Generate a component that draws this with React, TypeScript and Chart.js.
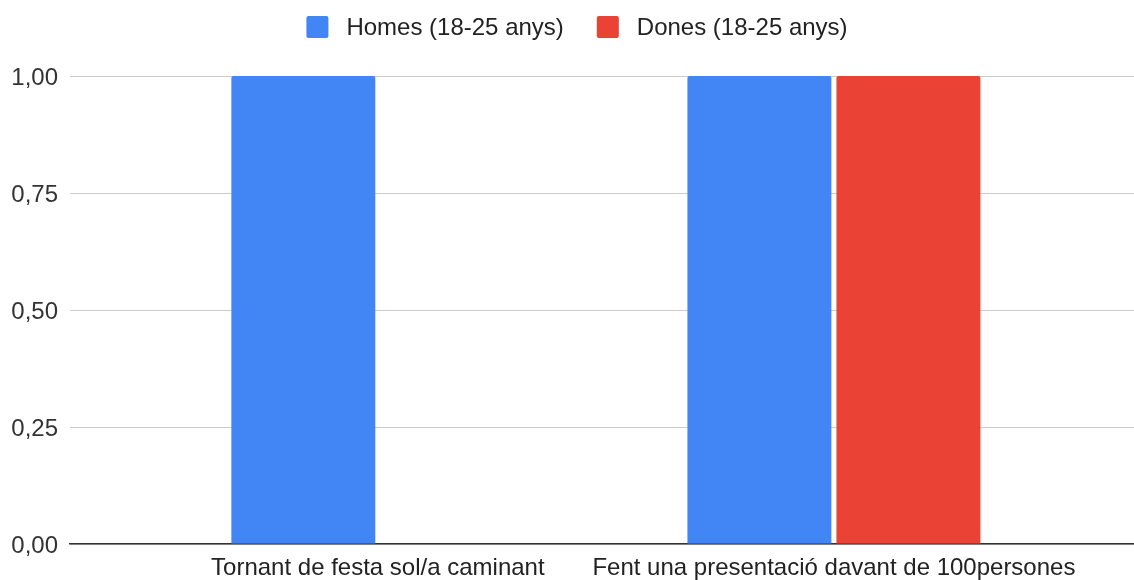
import React, { useEffect, useRef } from 'react';
import { Chart, registerables } from 'chart.js';

Chart.register(...registerables);

// Categories along the x axis
const categories = ['Tornant de festa sol/a caminant', 'Fent una presentació davant de 100persones'];
// Series values
const homes = [1, 1];
const dones = [0, 1];
const seriesNames = ['Homes (18-25 anys)', 'Dones (18-25 anys)'];
const seriesColors = ['#4285F4', '#EA4335'];
// Y axis tick values
const yTicks = [0, 0.25, 0.5, 0.75, 1];

const FONT = "'Liberation Sans', Arial, sans-serif";

// Legend drawn across the top, centred above the plot
const topLegend = {
  id: 'topLegend',
  afterDraw(chart: any) {
    const ctx = chart.ctx as CanvasRenderingContext2D;
    const ds = chart.data.datasets;
    ctx.save();
    ctx.font = `24px ${FONT}`;
    const box = 22;
    const gapText = 18;
    const gapItem = 33;
    const widths = ds.map((d: any) => ctx.measureText(d.label).width);
    const total =
      widths.reduce((s: number, w: number) => s + box + gapText + w, 0) + gapItem * (ds.length - 1);
    let x = chart.width / 2 + 10 - total / 2;
    const cy = 27;
    ds.forEach((d: any, i: number) => {
      ctx.fillStyle = d.backgroundColor;
      ctx.beginPath();
      ctx.roundRect(x, cy - box / 2, box, box, 2);
      ctx.fill();
      ctx.fillStyle = '#222';
      ctx.textBaseline = 'middle';
      ctx.textAlign = 'left';
      ctx.fillText(d.label, x + box + gapText, cy + 1);
      x += box + gapText + widths[i] + gapItem;
    });
    ctx.restore();
  },
};

export default function App() {
  const ref = useRef<HTMLCanvasElement>(null);

  useEffect(() => {
    document.body.style.margin = '0';
    const canvas = ref.current;
    if (!canvas) return;
    const series = [homes, dones];
    const chart = new Chart(canvas, {
      type: 'bar',
      data: {
        datasets: series.map((vals, s) => ({
          label: seriesNames[s],
          data: vals.map((v, i) => ({ x: i, y: v })),
          backgroundColor: seriesColors[s],
          borderRadius: { topLeft: 2, topRight: 2, bottomLeft: 0, bottomRight: 0 },
          borderSkipped: 'bottom',
          categoryPercentage: 0.6535,
          barPercentage: 0.966,
        })),
      },
      options: {
        responsive: false,
        animation: false,
        layout: { padding: { top: 76, left: 0, right: 0, bottom: 0 } },
        plugins: {
          legend: { display: false },
          tooltip: { enabled: false },
        },
        scales: {
          x: {
            type: 'linear',
            offset: false,
            min: -0.675,
            max: 1.658,
            grid: { display: false, drawTicks: false },
            border: { display: true, color: '#333', width: 1.5 },
            afterBuildTicks: (scale: any) => {
              scale.ticks = categories.map((_, i) => ({ value: i }));
            },
            afterFit: (scale: any) => {
              scale.height = 36;
            },
            ticks: {
              autoSkip: false,
              maxRotation: 0,
              minRotation: 0,
              padding: 12,
              color: '#222',
              font: { family: FONT, size: 24, lineHeight: 1 },
              callback: (v: any) => categories[v] ?? '',
            },
          },
          y: {
            min: 0,
            max: 1,
            afterBuildTicks: (scale: any) => {
              scale.ticks = yTicks.map((v) => ({ value: v }));
            },
            afterFit: (scale: any) => {
              scale.width = 70;
            },
            grid: { color: '#cccccc', lineWidth: 1, drawTicks: false },
            border: { display: false },
            ticks: {
              padding: 12,
              labelOffset: 2,
              color: '#333',
              font: { family: FONT, size: 24 },
              callback: (v: any) => Number(v).toFixed(2).replace('.', ','),
            },
          },
        },
      },
      plugins: [topLegend],
    });
    return () => chart.destroy();
  }, []);

  return <canvas ref={ref} width={1134} height={580} style={{ display: 'block' }} />;
}
